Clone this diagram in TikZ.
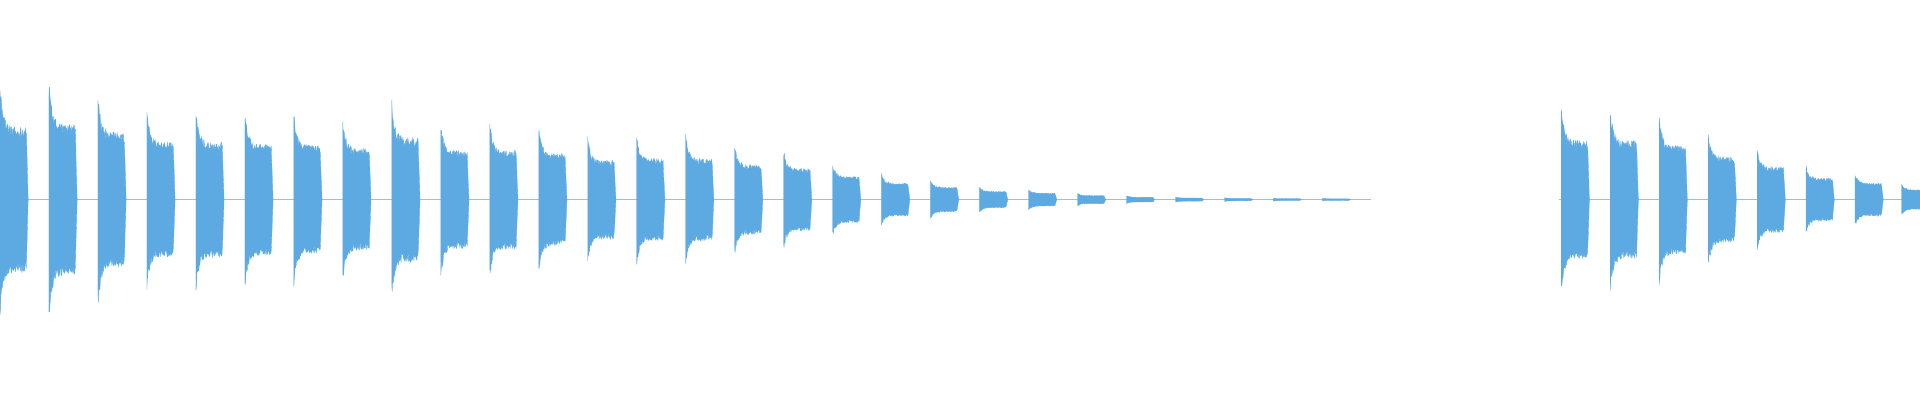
\documentclass[tikz,border=0pt]{standalone}
\definecolor{wv}{HTML}{5DA9E2}
\begin{document}
\begin{tikzpicture}[x=1.2245pt,y=-1.2245pt,wave/.style={fill=wv,draw=wv,line width=0.3pt}]
\pgfmathsetseed{7}
\useasboundingbox (0,0) rectangle (1568,327);
\draw[wv!70,line width=0.5pt] (0,163) -- (1120,163);
\draw[wv!70,line width=0.5pt] (1273,163) -- (1568,163);
\foreach \xo/\A in {0/88,40/92,80/82,120/70,160/70,200/68,240/66,280/62,320/76,360/60,400/60,440/56,480/48,520/50,560/50,600/42,640/38,680/28,720/20,760/15,800/10,840/8,880/5,920/3,960/2,1000/1.5,1040/1.2,1080/1,1275/72,1315/72,1355/66,1395/52,1435/40,1475/26,1515/20,1553/12}{
\fill[wave] plot[domain=0:23,samples=80] ({\xo+\x},{163-\A*(0.62+0.38*exp(-\x/2.5))*min(1,(23-\x)/1.5)*(1+0.08*rand)})
 -- plot[domain=23:0,samples=80] ({\xo+\x},{163+\A*(0.62+0.38*exp(-\x/2.5))*min(1,(23-\x)/1.5)*(1+0.08*rand)}) -- cycle;
}
\end{tikzpicture}
\end{document}
